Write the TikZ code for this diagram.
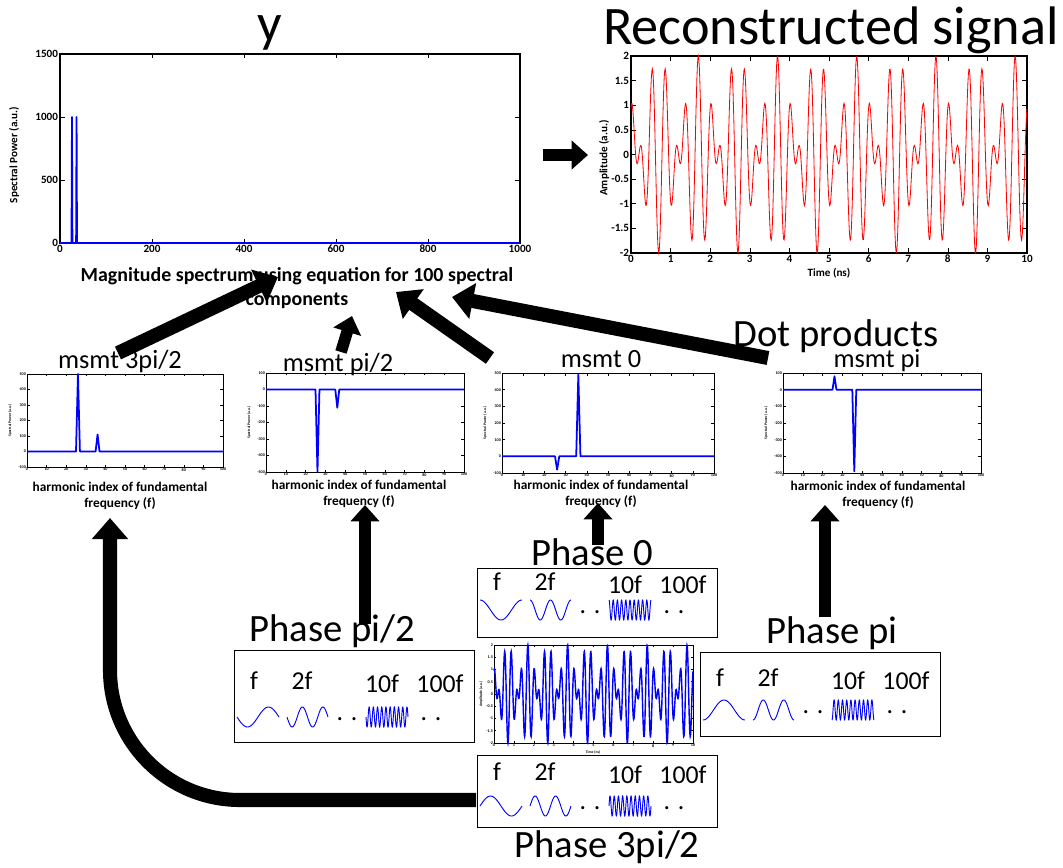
\documentclass[tikz,border=0pt]{standalone}
\usepackage{fontspec}
\setmainfont{Carlito}
\usetikzlibrary{arrows.meta}

\tikzset{
  bigttl/.style={font=\fontsize{46.3}{50}\selectfont},
  midttl/.style={font=\fontsize{33}{36}\selectfont},
  msmtlbl/.style={font=\fontsize{22.5}{25}\selectfont},
  freqlbl/.style={font=\fontsize{22}{24}\selectfont},
  spectitle/.style={font=\bfseries\fontsize{17}{21}\selectfont, align=center},
  hidxlbl/.style={font=\bfseries\fontsize{11.4}{13.6}\selectfont, align=center},
  ticklbl/.style={font=\bfseries\fontsize{9.5}{10}\selectfont, inner sep=1.5pt},
  axlbl/.style={font=\bfseries\fontsize{9.5}{10}\selectfont},
  tinylbl/.style={font=\bfseries\fontsize{3.5}{4}\selectfont, inner sep=0.8pt},
  tinyax/.style={font=\bfseries\fontsize{3.2}{4}\selectfont},
  axbox/.style={line width=0.9pt},
  axtick/.style={line width=0.5pt},
  spec/.style={blue, line width=1.5pt, line join=round},
  recsig/.style={red, line width=0.7pt},
  wave/.style={blue, line width=0.8pt},
  phbox/.style={line width=0.8pt},
  bigarrow/.style={line width=10pt, -{Triangle[length=14pt,width=24pt]}},
  fatarrow/.style={line width=12pt, -{Triangle[length=18pt,width=30pt]}},
}

\begin{document}
\begin{tikzpicture}[x=0.03cm, y=-0.03cm]
    \useasboundingbox (0,0) rectangle (1063,867);

    % the big titles
    \node[bigttl, anchor=base] (ttly) at (270,42) {y};
    \node[bigttl, anchor=base] (ttlrec) at (831,44) {Reconstructed signal};
    \node[midttl, anchor=base] (dotprod) at (836,346) {Dot products};

    % spectrum of y
    \begin{scope}[shift={(60,243)}, xscale=0.46, yscale=-0.126]
        \draw[axbox] (0,0) rectangle (1000,1500);
        \foreach \t [count=\i] in {0,200,...,1000} {
            \draw[axtick] (\t,0) -- (\t,35) (\t,1500) -- (\t,1465);
            \node[ticklbl, below] (yx\i) at (\t,0) {\t};
        }
        \foreach \t [count=\i] in {0,500,1000,1500} {
            \draw[axtick] (0,\t) -- (10,\t) (1000,\t) -- (990,\t);
            \node[ticklbl, left] (yy\i) at (0,\t) {\t};
        }
        \draw[spec] (0,0) -- (25,0) -- (26,1000) -- (27,0) -- (35,0) -- (36,1000) -- (37,0) -- (1000,0);
    \end{scope}
    \node[axlbl, rotate=90] (yylab) at (14,155) {Spectral Power (a.u.)};
    \node[spectitle] (yxlab) at (297,288) {Magnitude spectrum using equation for 100 spectral\\components};

    % reconstructed signal
    \begin{scope}[shift={(631,154.5)}, xscale=39.6, yscale=-49.25]
        \draw[axbox] (0,-2) rectangle (10,2);
        \foreach \t [count=\i] in {0,...,10} {
            \draw[axtick] (\t,-2) -- (\t,-1.9) (\t,2) -- (\t,1.9);
            \node[ticklbl, below] (rx\i) at (\t,-2) {\t};
        }
        \foreach \t [count=\i] in {-2,-1.5,-1,-0.5,0,0.5,1,1.5,2} {
            \draw[axtick] (0,\t) -- (0.12,\t) (10,\t) -- (9.88,\t);
            \node[ticklbl, left] (ry\i) at (0,\t) {\t};
        }
        \draw[recsig] plot[domain=0:10, samples=800] (\x, {sin(900*\x)+cos(1260*\x+18)});
    \end{scope}
    \node[axlbl, rotate=90] (rylab) at (604,158) {Amplitude (a.u.)};
    \node[axlbl] (rxlab) at (829,273) {Time (ns)};

    % the four measurement spectra
    \foreach \nm/\bx/\by/\bw/\bh/\ylo/\pa/\pb in {
            m270/27/374/196/93/-100/500/110,
            m90/266/373/198/99/-500/-500/-110,
            m0/502/373/212/100/-100/-80/490,
            m180/783/373/198/100/-500/80/-490} {
        \begin{scope}[shift={(\bx,\by+\bh+\ylo/600*\bh)}, xscale=\bw/100, yscale=-\bh/600]
            \pgfmathtruncatemacro\yhi{\ylo+600}
            \draw[axbox, line width=0.7pt] (0,\ylo) rectangle (100,\yhi);
            \foreach \t [count=\i] in {0,10,...,100} {
                \draw[axtick] (\t,\ylo) -- (\t,\ylo+15) (\t,\yhi) -- (\t,\yhi-15);
                \node[tinylbl, below] (\nm-x\i) at (\t,\ylo) {\t};
            }
            \foreach \i in {0,...,6} {
                \pgfmathtruncatemacro\v{\ylo+100*\i}
                \draw[axtick] (0,\v) -- (1.5,\v) (100,\v) -- (98.5,\v);
                \node[tinylbl, left] (\nm-y\i) at (0,\v) {\v};
            }
            \draw[spec] (0,0) -- (25,0) -- (26,\pa) -- (27,0) -- (35,0) -- (36,\pb) -- (37,0) -- (100,0);
        \end{scope}
        \node[tinyax, rotate=90] (\nm-yl) at (\bx-17,\by+\bh/2) {Spectral Power (a.u.)};
    }
    \node[msmtlbl, anchor=base] (m270lbl) at (120,368) {msmt 3pi/2};
    \node[msmtlbl, anchor=base] (m90lbl) at (338,371) {msmt pi/2};
    \node[msmtlbl, anchor=base] (m0lbl) at (601,367) {msmt 0};
    \node[msmtlbl, anchor=base] (m180lbl) at (877,367) {msmt pi};
    \node[hidxlbl] (m270xl) at (120,496) {harmonic index of fundamental\\frequency (f)};
    \node[hidxlbl] (m90xl) at (359,494) {harmonic index of fundamental\\frequency (f)};
    \node[hidxlbl] (m0xl) at (601,494) {harmonic index of fundamental\\frequency (f)};
    \node[hidxlbl] (m180xl) at (878,495) {harmonic index of fundamental\\frequency (f)};

    % the phase boxes with their basis waves
    \foreach \nm/\bx/\by/\bh/\ty/\wy/\ph in {
            ph0/477/568/69/590/610/0,
            ph90/234/650/92/689/717/90,
            ph180/700/652/84/686/710/180,
            ph270/477/755/72/780/806/270} {
        \draw[phbox] (\bx,\by) rectangle ++(240,\bh);
        \node[freqlbl, anchor=base] (\nm-f) at (\bx+20,\ty) {f};
        \node[freqlbl, anchor=base] (\nm-2f) at (\bx+68,\ty) {2f};
        \node[freqlbl, anchor=base] (\nm-10f) at (\bx+148,\ty+3) {10f};
        \node[freqlbl, anchor=base] (\nm-100f) at (\bx+206,\ty+3) {100f};
        \node[freqlbl, anchor=base] (\nm-d1) at (\bx+113,\wy+3) {. .};
        \node[freqlbl, anchor=base] (\nm-d2) at (\bx+197,\wy+3) {. .};
        \draw[wave] plot[domain=0:42, samples=60] ({\bx+3+\x}, {\wy-10*cos(360/42*\x+\ph)});
        \draw[wave] plot[domain=0:41, samples=80] ({\bx+53+\x}, {\wy-10*cos(720/41*\x+\ph)});
        \draw[wave] plot[domain=0:42, samples=300] ({\bx+132+\x}, {\wy-10*cos(3600/42*\x+\ph)});
    }
    \node[midttl, anchor=base] (ph0lbl) at (592,565) {Phase 0};
    \node[midttl, anchor=base] (ph90lbl) at (332,641) {Phase pi/2};
    \node[midttl, anchor=base] (ph180lbl) at (832,643) {Phase pi};
    \node[midttl, anchor=base] (ph270lbl) at (607,857) {Phase 3pi/2};

    % the measured signal in the middle
    \begin{scope}[shift={(494,694)}, xscale=19.9, yscale=-24.5]
        \draw[axbox, line width=0.7pt] (0,-2) rectangle (10,2);
        \foreach \t [count=\i] in {0,...,10} {
            \draw[axtick] (\t,-2) -- (\t,-1.92) (\t,2) -- (\t,1.92);
            \node[tinylbl, below] (sx\i) at (\t,-2) {\t};
        }
        \foreach \t [count=\i] in {-2,-1.5,-1,-0.5,0,0.5,1,1.5,2} {
            \draw[axtick] (0,\t) -- (0.12,\t) (10,\t) -- (9.88,\t);
            \node[tinylbl, left] (sy\i) at (0,\t) {\t};
        }
        \draw[blue, line width=1.2pt] plot[domain=0:10, samples=800] (\x, {sin(900*\x)+cos(1260*\x+18)});
    \end{scope}
    \node[tinyax, rotate=90] (sylab) at (481,694) {Amplitude (a.u.)};
    \node[tinyax] (sxlab) at (593,752) {Time (ns)};

    % arrow ends
    \coordinate (c270) at (118,353);
    \coordinate (t270) at (278,277);
    \coordinate (c90) at (341,352);
    \coordinate (t90) at (352,316);
    \coordinate (c0) at (490,358);
    \coordinate (t0) at (396,292);
    \coordinate (c180) at (768,358);
    \coordinate (t180) at (452,297);
    \coordinate (cy) at (543,155);
    \coordinate (ty) at (588,155);
    \coordinate (b90) at (365,624);
    \coordinate (u90) at (365,505);
    \coordinate (b0) at (598,545);
    \coordinate (u0) at (598,503);
    \coordinate (b180) at (825,617);
    \coordinate (u180) at (825,505);
    \coordinate (b270) at (476,800);
    \coordinate (u270) at (110,518);

    % dot products up to y, y to reconstruction
    \draw[fatarrow] (c270) -- (t270);
    \draw[bigarrow] (c90) -- (t90);
    \draw[fatarrow] (c0) -- (t0);
    \draw[fatarrow] (c180) -- (t180);
    \draw[bigarrow] (cy) -- (ty);

    % phases up to the measurements
    \draw[bigarrow] (b90) -- (u90);
    \draw[bigarrow] (b0) -- (u0);
    \draw[bigarrow] (b180) -- (u180);
    \draw[fatarrow, rounded corners=3.9cm] (b270) -| (u270);
\end{tikzpicture}
\end{document}
